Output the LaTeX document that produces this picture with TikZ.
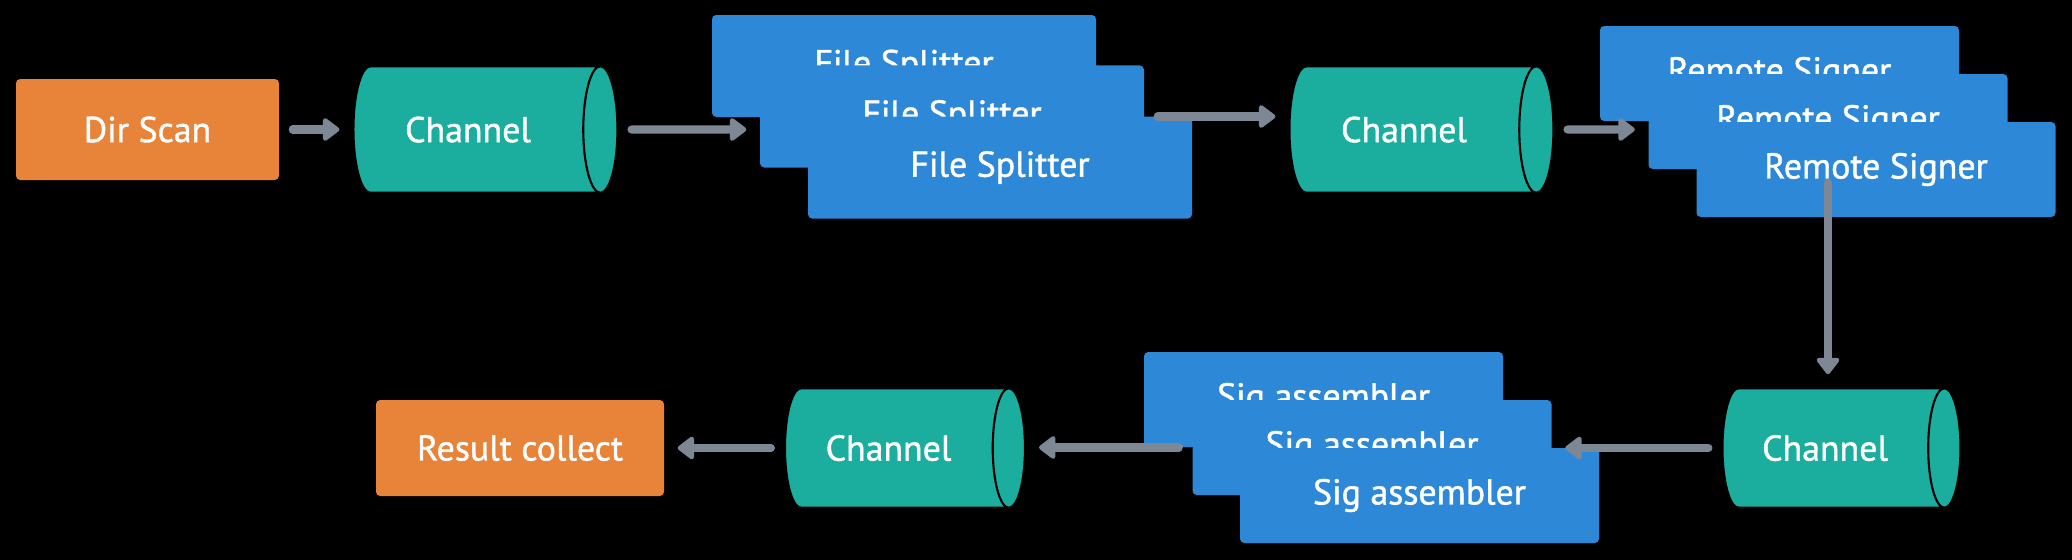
\documentclass[tikz,border=0pt]{standalone}
\usepackage{fontspec}
\setmainfont{PT Sans}[FakeBold=1.2]
\usepackage{tikz}
\usetikzlibrary{arrows.meta,positioning,calc,shapes.geometric}
\definecolor{bgblack}{RGB}{0,0,0}
\definecolor{taskorange}{RGB}{232,131,58}
\definecolor{chanteal}{RGB}{27,174,158}
\definecolor{workerblue}{RGB}{46,136,216}
\definecolor{arrowslate}{RGB}{126,136,149}
\tikzset{
  base/.style={font=\fontsize{10.2}{12}\selectfont, align=center, inner sep=0pt, text=white},
  task/.style={base, rectangle, rounded corners=1.2pt, fill=taskorange, minimum width=2.63cm, minimum height=1.01cm},
  worker/.style={base, rectangle, rounded corners=1.2pt, fill=workerblue, minimum width=3.59cm, minimum height=0.95cm},
  % cylinder lies on its side: ysep gives the radius, height the length
  chan/.style={base, cylinder, shape aspect=0.27, draw=bgblack, line width=0.6pt, fill=chanteal,
    text height=7.2pt, text depth=0pt, inner ysep=14.4pt, minimum height=2.64cm},
  arr/.style={-{Triangle[length=1.8mm,width=2.6mm,round]}, line width=2.3pt, line cap=round, draw=arrowslate, shorten <=1.3mm, shorten >=1.3mm},
}
\begin{document}
\begin{tikzpicture}
  \fill[bgblack] (0,0) rectangle (20.72,-5.6);
  % top row
  \node[task] (ds) at (1.475,-1.295) {Dir Scan};
  \node[chan] (ch1) at (4.68,-1.295) {Channel};
  \node[worker,minimum width=3.84cm,minimum height=1.02cm] (fsA) at (9.04,-0.66)  {File Splitter};
  \node[worker,minimum width=3.84cm,minimum height=1.02cm] (fsB) at (9.52,-1.165) {File Splitter};
  \node[worker,minimum width=3.84cm,minimum height=1.02cm] (fsC) at (10.0,-1.675) {File Splitter};
  \node[chan] (ch2) at (14.04,-1.295) {Channel};
  \node[worker] (rsA) at (17.795,-0.735) {Remote Signer};
  \node[worker] (rsB) at (18.28,-1.215)  {Remote Signer};
  \node[worker] (rsC) at (18.76,-1.695)  {Remote Signer};
  % bottom row
  \node[chan,inner ysep=13.4pt,minimum height=2.38cm] (ch3) at (18.25,-4.48) {Channel};
  \node[worker] (sgA) at (13.235,-3.995) {Sig assembler};
  \node[worker] (sgB) at (13.72,-4.475)  {Sig assembler};
  \node[worker] (sgC) at (14.195,-4.955) {Sig assembler};
  \node[chan,inner ysep=13.4pt,minimum height=2.4cm] (ch4) at (8.885,-4.48) {Channel};
  \node[task,minimum width=2.88cm,minimum height=0.96cm] (rc) at (5.2,-4.48) {Result collect};
  % connectors
  \foreach \a/\b in {ds/ch1,ch4/rc}{\draw[arr] (\a) -- (\b);}
  \draw[arr] (ch1) -- (ch1 -| fsB.west);
  \draw[arr] (fsB.east) -- (fsB.east -| ch2.west);
  \draw[arr] (ch2) -- (ch2 -| rsB.west);
  \draw[arr] (rsB.south) -- (rsB.south |- ch3.north);
  \draw[arr] (ch3) -- (ch3 -| sgB.east);
  \draw[arr] (sgB.west) -- (sgB.west -| ch4.east);
\end{tikzpicture}
\end{document}
